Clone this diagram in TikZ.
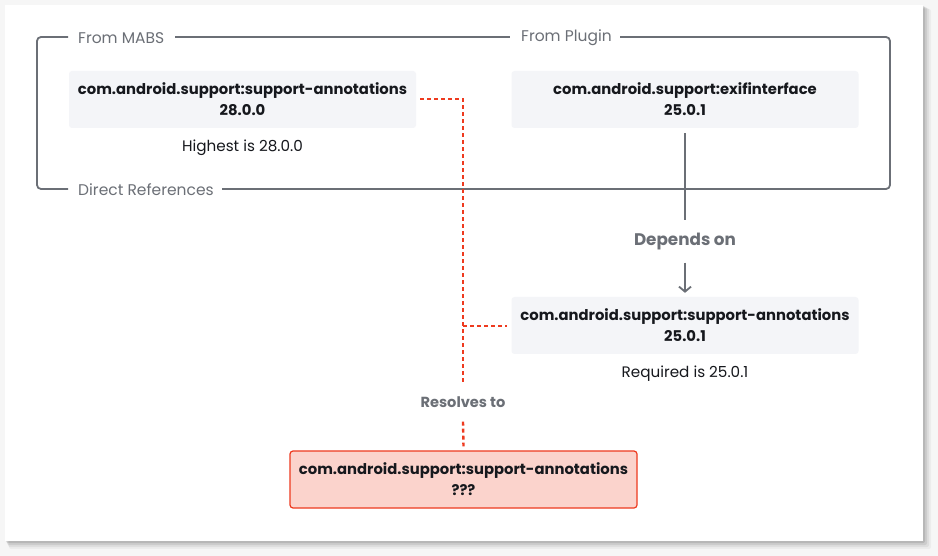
\documentclass[tikz,border=0pt]{standalone}
\usepackage{fontspec}
\setmainfont{Poppins}
\usetikzlibrary{arrows.meta}
\definecolor{pagebg}{HTML}{F6F6F6}
\definecolor{frame}{HTML}{6B6F76}
\definecolor{boxfill}{HTML}{F4F5F8}
\definecolor{redline}{HTML}{EE3A1F}
\definecolor{redfill}{HTML}{FBD3CC}
\definecolor{txt}{HTML}{16181D}
\definecolor{lbl}{HTML}{6B6F76}
\tikzset{
  pkg/.style={fill=boxfill, rounded corners=3pt, minimum width=347pt, minimum height=57pt,
    align=center, font=\fontsize{14.8}{21}\selectfont\bfseries, text=txt, inner sep=0pt},
  redpkg/.style={pkg, fill=redfill, draw=redline, line width=1.2pt},
  note/.style={font=\fontsize{15.2}{18}\selectfont, text=txt, inner sep=0pt},
  framelbl/.style={font=\fontsize{15.5}{18}\selectfont, text=lbl, inner sep=0pt},
  edgelbl/.style={font=\fontsize{14.6}{17}\selectfont\bfseries, text=lbl, inner sep=0pt},
  frameline/.style={draw=frame, line width=1.8pt},
  reddot/.style={draw=redline, line width=2.4pt, dash pattern=on 4pt off 3pt},
  grayline/.style={draw=frame, line width=1.8pt},
}
\begin{document}
\begin{tikzpicture}[x=1pt,y=-1pt]
\useasboundingbox (0,0) rectangle (938,556);
\fill[pagebg] (0,0) rectangle (938,556);
% shadow
\foreach \i/\o in {8/0.04,6/0.06,4/0.08,2/0.10}{
  \fill[black, opacity=\o, rounded corners=2pt] (5+\i*0.5,5+\i*0.5) rectangle (923+\i,541+\i);
}
\fill[white] (5,5) rectangle (923,541);
% frame
\draw[frameline, rounded corners=4pt] (68,37) -- (37,37) -- (37,189) -- (68,189);
\draw[frameline] (175,37) -- (510,37);
\draw[frameline, rounded corners=4pt] (620,37) -- (890,37) -- (890,189) -- (222,189);
\node[framelbl, anchor=west] (lmabs) at (78,38) {From MABS};
\node[framelbl, anchor=west] (lplug) at (521,38) {From Plugin};
\node[framelbl, anchor=west] (ldirect) at (78,190) {Direct References};
% boxes
\node[pkg] (mabs) at (242.5,99.5) {com.android.support:support-annotations\\28.0.0};
\node[note] (high) at (242.5,148) {Highest is 28.0.0};
\node[pkg] (exif) at (685,99.5) {com.android.support:exifinterface\\25.0.1};
\node[edgelbl, font=\fontsize{16.8}{19}\selectfont\bfseries] (dep) at (685,242) {Depends on};
\node[pkg] (ann) at (685,325.5) {com.android.support:support-annotations\\25.0.1};
\node[note] (req) at (685,374) {Required is 25.0.1};
\node[edgelbl] (res) at (463,402) {Resolves to};
\node[redpkg] (result) at (463.5,479.5) {com.android.support:support-annotations\\???};
% connectors
\coordinate (c1) at (463,99);
\coordinate (c2) at (463,326);
\draw[grayline] ([yshift=-5pt]exif.south) -- ([yshift=13pt]dep.north);
\draw[grayline, -{Straight Barb[length=5pt,width=12pt,line width=1.8pt]}] ([yshift=-12pt]dep.south) -- ([yshift=4pt]ann.north);
\draw[reddot] ([xshift=4pt]mabs.east |- c1) -- (c1) -- ([yshift=14pt]res.north);
\draw[reddot] (c2) -- ([xshift=-4pt]ann.west |- c2);
\draw[reddot] ([yshift=-14pt]res.south) -- ([yshift=4pt]result.north);
\end{tikzpicture}
\end{document}
